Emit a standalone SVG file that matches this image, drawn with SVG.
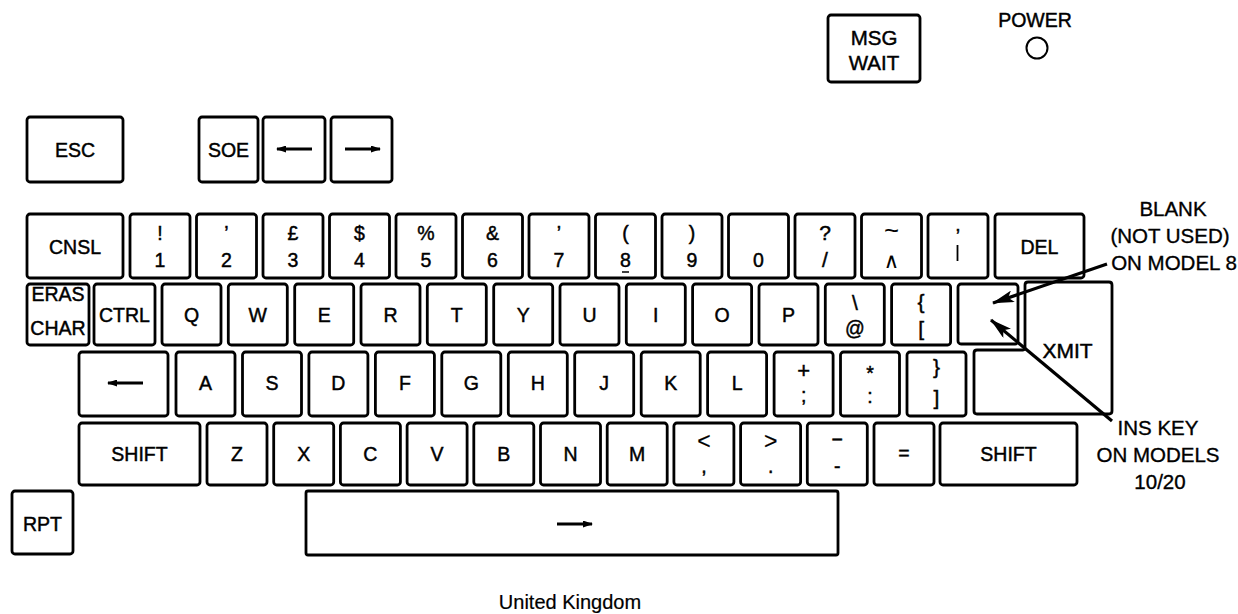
<svg xmlns="http://www.w3.org/2000/svg" width="1238" height="614" viewBox="0 0 1238 614">
<defs>
<style>
.k{fill:#fff;stroke:#000;stroke-width:2.8}
.t{font-family:"Liberation Sans",Arial,"DejaVu Sans",sans-serif;font-size:19.5px;text-anchor:middle;fill:#000;stroke:#000;stroke-width:0.45}
.n{font-family:"Liberation Sans",Arial,"DejaVu Sans",sans-serif;font-size:20.5px;text-anchor:middle;fill:#000;stroke:#000;stroke-width:0.35}
.ar{stroke:#000;stroke-width:2.8;fill:none}
.cn{stroke:#000;stroke-width:3.2;fill:none}
</style>
<marker id="sa" viewBox="0 0 10 7" refX="9" refY="3.5" markerWidth="10" markerHeight="7" markerUnits="userSpaceOnUse" orient="auto">
<path d="M0,0 L10,3.5 L0,7 z" fill="#000"/>
</marker>
<marker id="la" viewBox="0 0 22 12" refX="21" refY="6" markerWidth="22" markerHeight="12" markerUnits="userSpaceOnUse" orient="auto">
<path d="M0,0 L22,6 L0,12 L5,6 z" fill="#000"/>
</marker>
</defs>
<rect width="1238" height="614" fill="#fff"/>

<!-- Top indicators -->
<g id="msgwait"><rect class="k" x="828" y="15" width="92" height="67" rx="3"/><text class="t" x="874" y="45" style="font-size:20.5px">MSG</text><text class="t" x="874" y="70" style="font-size:20.5px">WAIT</text></g>
<g id="power"><text class="t" x="1035" y="27">POWER</text><circle cx="1037" cy="48" r="10.5" fill="none" stroke="#000" stroke-width="2"/></g>

<!-- Function keys -->
<g id="esc"><rect class="k" x="27" y="117" width="96" height="65" rx="3"/><text class="t" x="75" y="157">ESC</text></g>
<g id="soe"><rect class="k" x="199" y="117" width="59" height="65" rx="3"/><text class="t" x="228.5" y="157">SOE</text></g>
<g id="left1"><rect class="k" x="263" y="117" width="62" height="65" rx="3"/><line class="ar" x1="312" y1="149" x2="277" y2="149" marker-end="url(#sa)"/></g>
<g id="right1"><rect class="k" x="331" y="117" width="61" height="65" rx="3"/><line class="ar" x1="345" y1="149" x2="380" y2="149" marker-end="url(#sa)"/></g>

<!-- Row 1 -->
<g id="cnsl"><rect class="k" x="27" y="214" width="96" height="64" rx="3"/><text class="t" x="75" y="254">CNSL</text></g>
<g id="k1"><rect class="k" x="130" y="214" width="60" height="64" rx="3"/><text class="t" x="160" y="240">!</text><text class="t" x="160" y="267">1</text></g>
<g id="k2"><rect class="k" x="196.5" y="214" width="60" height="64" rx="3"/><text class="t" x="226.5" y="240">’</text><text class="t" x="226.5" y="267">2</text></g>
<g id="k3"><rect class="k" x="263" y="214" width="60" height="64" rx="3"/><text class="t" x="293" y="240">£</text><text class="t" x="293" y="267">3</text></g>
<g id="k4"><rect class="k" x="329.5" y="214" width="60" height="64" rx="3"/><text class="t" x="359.5" y="240">$</text><text class="t" x="359.5" y="267">4</text></g>
<g id="k5"><rect class="k" x="396" y="214" width="60" height="64" rx="3"/><text class="t" x="426" y="240">%</text><text class="t" x="426" y="267">5</text></g>
<g id="k6"><rect class="k" x="462.5" y="214" width="60" height="64" rx="3"/><text class="t" x="492.5" y="240">&amp;</text><text class="t" x="492.5" y="267">6</text></g>
<g id="k7"><rect class="k" x="529" y="214" width="60" height="64" rx="3"/><text class="t" x="559" y="240">’</text><text class="t" x="559" y="267">7</text></g>
<g id="k8"><rect class="k" x="595.5" y="214" width="60" height="64" rx="3"/><text class="t" x="625.5" y="240">(</text><text class="t" x="625.5" y="267">8</text><line x1="622" y1="272" x2="629" y2="272" stroke="#000" stroke-width="1.5"/></g>
<g id="k9"><rect class="k" x="662" y="214" width="60" height="64" rx="3"/><text class="t" x="692" y="240">)</text><text class="t" x="692" y="267">9</text></g>
<g id="k0"><rect class="k" x="728.5" y="214" width="60" height="64" rx="3"/><text class="t" x="758.5" y="267">0</text></g>
<g id="kslash"><rect class="k" x="795" y="214" width="60" height="64" rx="3"/><text class="t" x="825" y="240" style="font-size:21px">?</text><text class="t" x="825" y="267" style="font-size:21px">/</text></g>
<g id="kcaret"><rect class="k" x="861.5" y="214" width="60" height="64" rx="3"/><text class="t" x="891.5" y="239" style="font-size:25px;stroke-width:0.2">~</text><text class="t" x="891.5" y="268" style="font-size:21px;stroke-width:0.1">∧</text></g>
<g id="kbar"><rect class="k" x="928" y="214" width="60" height="64" rx="3"/><text class="t" x="958" y="243">’</text><line x1="957.5" y1="245" x2="957.5" y2="261" stroke="#000" stroke-width="1.8"/></g>
<g id="del"><rect class="k" x="995" y="214" width="89" height="64" rx="3"/><text class="t" x="1039.5" y="254">DEL</text></g>

<!-- Row 2 -->
<g id="erase"><rect class="k" x="27" y="284" width="62" height="61" rx="3"/><text class="t" x="58" y="301">ERAS</text><text class="t" x="58" y="335">CHAR</text></g>
<g id="ctrl"><rect class="k" x="94" y="284" width="61" height="61" rx="3"/><text class="t" x="124.5" y="322">CTRL</text></g>
<g id="kq"><rect class="k" x="162" y="284" width="59" height="61" rx="3"/><text class="t" x="191.5" y="322">Q</text></g>
<g id="kw"><rect class="k" x="228.3" y="284" width="59" height="61" rx="3"/><text class="t" x="257.8" y="322">W</text></g>
<g id="ke"><rect class="k" x="294.7" y="284" width="59" height="61" rx="3"/><text class="t" x="324.2" y="322">E</text></g>
<g id="kr"><rect class="k" x="361" y="284" width="59" height="61" rx="3"/><text class="t" x="390.5" y="322">R</text></g>
<g id="kt"><rect class="k" x="427.3" y="284" width="59" height="61" rx="3"/><text class="t" x="456.8" y="322">T</text></g>
<g id="ky"><rect class="k" x="493.7" y="284" width="59" height="61" rx="3"/><text class="t" x="523.2" y="322">Y</text></g>
<g id="ku"><rect class="k" x="560" y="284" width="59" height="61" rx="3"/><text class="t" x="589.5" y="322">U</text></g>
<g id="ki"><rect class="k" x="626.3" y="284" width="59" height="61" rx="3"/><text class="t" x="655.8" y="322">I</text></g>
<g id="ko"><rect class="k" x="692.6" y="284" width="59" height="61" rx="3"/><text class="t" x="722.1" y="322">O</text></g>
<g id="kp"><rect class="k" x="759" y="284" width="59" height="61" rx="3"/><text class="t" x="788.5" y="322">P</text></g>
<g id="kat"><rect class="k" x="825.3" y="284" width="59" height="61" rx="3"/><text class="t" x="854.8" y="310" style="font-size:21px">\</text><text class="t" x="854.8" y="335">@</text></g>
<g id="kbrace"><rect class="k" x="891.6" y="284" width="59" height="61" rx="3"/><text class="t" x="921.1" y="309" style="font-size:21px">{</text><text class="t" x="921.1" y="336" style="font-size:21px">[</text></g>
<g id="blank"><rect class="k" x="958" y="284" width="60" height="60" rx="3"/></g>
<g id="xmit"><path class="k" d="M1028,282 L1109,282 Q1112,282 1112,285 L1112,411 Q1112,414 1109,414 L977,414 Q974,414 974,411 L974,353 Q974,350 977,350 L1023,350 Q1025,350 1025,347 L1025,285 Q1025,282 1028,282 Z"/><text class="t" x="1067.5" y="358" style="font-size:21px">XMIT</text></g>

<!-- Row 3 -->
<g id="backsp"><rect class="k" x="79" y="352" width="89" height="64" rx="3"/><line class="ar" x1="143" y1="383" x2="108" y2="383" marker-end="url(#sa)"/></g>
<g id="ka"><rect class="k" x="176" y="352" width="59" height="64" rx="3"/><text class="t" x="205.5" y="390">A</text></g>
<g id="ks"><rect class="k" x="242.5" y="352" width="59" height="64" rx="3"/><text class="t" x="272" y="390">S</text></g>
<g id="kd"><rect class="k" x="308.9" y="352" width="59" height="64" rx="3"/><text class="t" x="338.4" y="390">D</text></g>
<g id="kf"><rect class="k" x="375.4" y="352" width="59" height="64" rx="3"/><text class="t" x="404.9" y="390">F</text></g>
<g id="kg"><rect class="k" x="441.8" y="352" width="59" height="64" rx="3"/><text class="t" x="471.3" y="390">G</text></g>
<g id="kh"><rect class="k" x="508.3" y="352" width="59" height="64" rx="3"/><text class="t" x="537.8" y="390">H</text></g>
<g id="kj"><rect class="k" x="574.7" y="352" width="59" height="64" rx="3"/><text class="t" x="604.2" y="390">J</text></g>
<g id="kk"><rect class="k" x="641.2" y="352" width="59" height="64" rx="3"/><text class="t" x="670.7" y="390">K</text></g>
<g id="kl"><rect class="k" x="707.6" y="352" width="59" height="64" rx="3"/><text class="t" x="737.1" y="390">L</text></g>
<g id="kplus"><rect class="k" x="774.1" y="352" width="59" height="64" rx="3"/><text class="t" x="803.6" y="378" style="font-size:22px">+</text><text class="t" x="803.6" y="402">;</text></g>
<g id="kstar"><rect class="k" x="840.5" y="352" width="59" height="64" rx="3"/><text class="t" x="870" y="380">*</text><text class="t" x="870" y="403">:</text></g>
<g id="kcbrace"><rect class="k" x="907" y="352" width="59" height="64" rx="3"/><text class="t" x="936.5" y="374" style="font-size:21px">}</text><text class="t" x="936.5" y="405" style="font-size:21px">]</text></g>

<!-- Row 4 -->
<g id="lshift"><rect class="k" x="79" y="423" width="121" height="62" rx="3"/><text class="t" x="139.5" y="461">SHIFT</text></g>
<g id="kz"><rect class="k" x="207" y="423" width="60" height="62" rx="3"/><text class="t" x="237" y="461">Z</text></g>
<g id="kx"><rect class="k" x="273.7" y="423" width="60" height="62" rx="3"/><text class="t" x="303.7" y="461">X</text></g>
<g id="kc"><rect class="k" x="340.4" y="423" width="60" height="62" rx="3"/><text class="t" x="370.4" y="461">C</text></g>
<g id="kv"><rect class="k" x="407.1" y="423" width="60" height="62" rx="3"/><text class="t" x="437.1" y="461">V</text></g>
<g id="kb"><rect class="k" x="473.8" y="423" width="60" height="62" rx="3"/><text class="t" x="503.8" y="461">B</text></g>
<g id="kn"><rect class="k" x="540.5" y="423" width="60" height="62" rx="3"/><text class="t" x="570.5" y="461">N</text></g>
<g id="km"><rect class="k" x="607.2" y="423" width="60" height="62" rx="3"/><text class="t" x="637.2" y="461">M</text></g>
<g id="klt"><rect class="k" x="673.9" y="423" width="60" height="62" rx="3"/><text class="t" x="703.9" y="449" style="font-size:23px;stroke-width:0.2">&lt;</text><text class="t" x="703.9" y="473">,</text></g>
<g id="kgt"><rect class="k" x="740.6" y="423" width="60" height="62" rx="3"/><text class="t" x="770.6" y="449" style="font-size:23px;stroke-width:0.2">&gt;</text><text class="t" x="770.6" y="473">.</text></g>
<g id="kminus"><rect class="k" x="807.3" y="423" width="60" height="62" rx="3"/><text class="t" x="837.3" y="446">−</text><text class="t" x="837.3" y="473">-</text></g>
<g id="kequal"><rect class="k" x="874" y="423" width="60" height="62" rx="3"/><text class="t" x="904" y="460">=</text></g>
<g id="rshift"><rect class="k" x="940" y="423" width="137" height="62" rx="3"/><text class="t" x="1008.5" y="461">SHIFT</text></g>

<!-- Row 5 -->
<g id="rpt"><rect class="k" x="12" y="491" width="61" height="63" rx="3"/><text class="t" x="42.5" y="531">RPT</text></g>
<g id="space"><rect class="k" x="306" y="491" width="532" height="64" rx="2"/><line class="ar" x1="557" y1="524" x2="592" y2="524" marker-end="url(#sa)"/></g>

<!-- Annotations -->
<g id="note-blank"><text class="n" x="1173" y="216">BLANK</text><text class="n" x="1170" y="243">(NOT USED)</text><text class="n" x="1174" y="270">ON MODEL 8</text></g>
<g id="note-ins"><text class="n" x="1158" y="435">INS KEY</text><text class="n" x="1158" y="462">ON MODELS</text><text class="n" x="1160" y="489">10/20</text></g>
<g id="caption"><text class="n" x="570" y="609" style="font-size:20px;stroke-width:0.2">United Kingdom</text></g>

<!-- Connectors -->
<g id="connectors">
<line class="cn" x1="1107" y1="264" x2="993" y2="303" marker-end="url(#la)"/>
<line class="cn" x1="1112" y1="421" x2="991" y2="320" marker-end="url(#la)"/>
</g>
</svg>
